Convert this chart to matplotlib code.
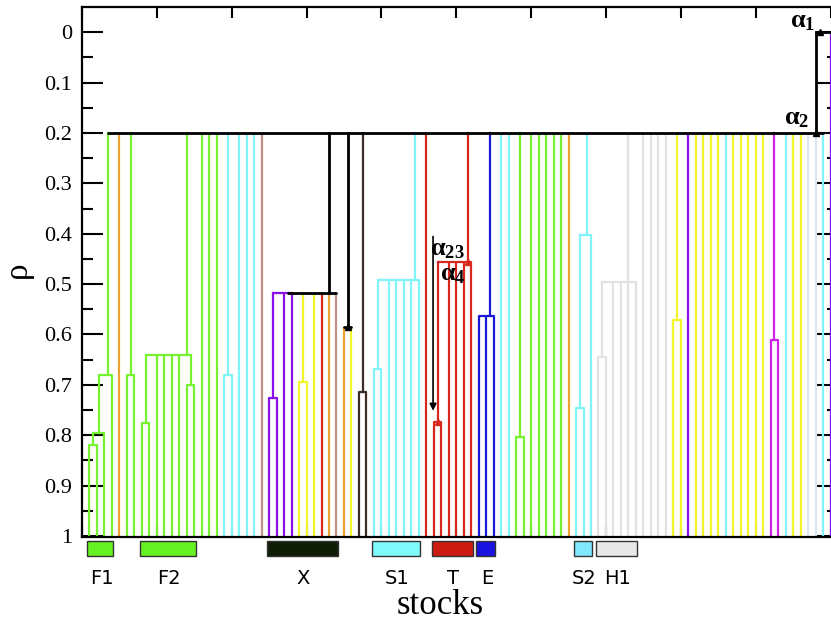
import matplotlib
matplotlib.use('Agg')
import matplotlib.pyplot as plt
from matplotlib.patches import Rectangle
import matplotlib.transforms as mtransforms

plt.rcParams['mathtext.fontset'] = 'custom'
plt.rcParams['mathtext.rm'] = 'Liberation Serif'
plt.rcParams['mathtext.bf'] = 'Liberation Serif:bold'
plt.rcParams['mathtext.it'] = 'Liberation Serif:italic'

# colour palette used for the stock groups
palette = {
    'G': '#77f230', 'C': '#80f4f8', 'O': '#eea030', 'P': '#8a10e8',
    'Y': '#f4f42a', 'R': '#d8281e', 'B': '#1c18d8', 'M': '#cc22e4',
    'W': '#e2e2e2', 'V': '#dde6ee', 'RB': '#c09088', 'DB': '#3c2c26',
    'K': '#000000',
}

# leaf colours, stocks 1..100 (left to right)
leaf_colors = (['G'] * 4 + ['O'] + ['G'] * 13 + ['C'] * 5 + ['RB'] +
               ['P'] * 4 + ['Y'] * 3 + ['R', 'O', 'RB', 'O', 'Y'] +
               ['DB'] * 2 + ['C'] * 7 + ['R'] * 7 + ['B'] * 3 +
               ['C'] * 2 + ['G'] * 7 + ['O'] + ['C'] * 3 + ['W'] * 10 +
               ['Y'] * 2 + ['P'] + ['Y'] * 4 + ['C'] + ['Y'] * 5 +
               ['M'] * 2 + ['C'] + ['Y'] * 2 + ['V'] * 2 + ['C'] + ['P'])


def node(h, c, kids, stem=None):
    return {'h': h, 'c': c, 'kids': kids, 'stem': stem}


# clusters below the 0.2 level (merge height rho, colour, members)
f1 = node(0.68, 'G', [node(0.795, 'G', [node(0.82, 'G', [1, 2]), 3]), 4], stem=3.5)
pair_6_7 = node(0.68, 'G', [6, 7])
f2 = node(0.64, 'G', [node(0.776, 'G', [8, 9]), 10, 11, 12, 13,
                      node(0.70, 'G', [14, 15])], stem=14)
pair_19_20 = node(0.68, 'C', [19, 20])
x_cl = node(0.518, 'K', [node(0.518, 'P', [node(0.726, 'P', [25, 26]), 27, 28], stem=27.5),
                         node(0.695, 'Y', [29, 30]), 31, 32, 33, 34], stem=33)
pair_35_36 = node(0.585, 'K', [35, 36])
pair_37_38 = node(0.714, 'DB', [37, 38])
s1 = node(0.492, 'C', [node(0.669, 'C', [39, 40]), 41, 42, 43, 44, 45], stem=44.5)
t_cl = node(0.456, 'R', [node(0.773, 'R', [47, 48]), 49, 50, 51, 52], stem=51.6)
e_cl = node(0.563, 'B', [53, 54, 55], stem=54.5)
pair_58_59 = node(0.804, 'G', [58, 59])
s2 = node(0.403, 'C', [node(0.746, 'C', [66, 67]), 68], stem=67.5)
h1 = node(0.496, 'W', [node(0.645, 'W', [69, 70]), 71, 72, 73, 74], stem=73)
pair_79_80 = node(0.571, 'Y', [79, 80])
pair_92_93 = node(0.611, 'M', [92, 93])

top_level = ([f1, 5, pair_6_7, f2, 16, 17, 18, pair_19_20, 21, 22, 23, 24, x_cl,
              pair_35_36, pair_37_38, s1, 46, t_cl, e_cl, 56, 57, pair_58_59] +
             list(range(60, 66)) + [s2, h1] + list(range(75, 79)) +
             [pair_79_80] + list(range(81, 92)) + [pair_92_93] + list(range(94, 100)))
root = node(0.2, 'K', top_level, stem=98)
full_tree = node(0.0, 'K', [root, 100], stem=99)

# small arrowheads marking the alpha levels
marks_x = [98, 98.6, 35.5, 51.6, 47.5]
marks_h = [0.2, 0.0, 0.585, 0.456, 0.773]
marks_c = ['K', 'K', 'K', 'R', 'R']

# groups shown as boxes under the axis
groups = ['F1', 'F2', 'X', 'S1', 'T', 'E', 'S2', 'H1']
group_first = [1, 8, 25, 39, 47, 53, 66, 69]
group_last = [4, 15, 34, 45, 52, 55, 68, 74]
group_colors = ['#66f222', '#66f222', '#0f1d06', '#80fafa', '#cc1c12', '#1a12e0', '#80e8ff', '#e8e8e8']

fig = plt.figure(figsize=(8.31, 6.24), dpi=100)
ax = fig.add_axes([82 / 831, 1 - 537 / 624, 756 / 831, 530 / 624])

LW = 1.6


def xpos(n):
    if isinstance(n, int):
        return float(n)
    if n['stem'] is not None:
        return n['stem']
    xs = [xpos(k) for k in n['kids']]
    return (min(xs) + max(xs)) / 2


def draw(n):
    xs = []
    for k in n['kids']:
        kx = xpos(k)
        xs.append(kx)
        if isinstance(k, int):
            ax.plot([kx, kx], [1.0, n['h']], color=palette[leaf_colors[k - 1]], lw=LW,
                    solid_capstyle='butt', zorder=2)
        else:
            draw(k)
            ax.plot([kx, kx], [k['h'], n['h']], color=palette[k['c']],
                    lw=2.0 if k['c'] == 'K' else LW, zorder=3)
    ax.plot([min(xs), max(xs)], [n['h'], n['h']], color=palette[n['c']],
            lw=2.0 if n['c'] == 'K' else LW, solid_capstyle='round', zorder=3)


draw(full_tree)

for mx, mh, mc in zip(marks_x, marks_h, marks_c):
    ax.plot(mx, mh, marker='^', ms=4.5, color=palette[mc], zorder=4)

# alpha annotations
ax.text(96.3, -0.024, r'$\mathbf{α}_\mathbf{1}$', fontsize=19, ha='center', va='center')
ax.text(95.5, 0.170, r'$\mathbf{α}_\mathbf{2}$', fontsize=19, ha='center', va='center')
ax.text(48.8, 0.429, r'$\mathbf{α}_\mathbf{23}$', fontsize=19, ha='center', va='center')
ax.text(49.6, 0.478, r'$\mathbf{α}_\mathbf{4}$', fontsize=19, ha='center', va='center')
ax.annotate('', xy=(46.9, 0.757), xytext=(46.9, 0.40),
            arrowprops=dict(arrowstyle='-|>', color='black', lw=1.2, mutation_scale=10))

ax.set_xlim(0, 101)
ax.set_ylim(1.002, -0.05)
ax.set_xticks(range(0, 101, 10))
ax.set_xticklabels([])
yt = [i / 10 for i in range(11)]
ax.set_yticks(yt)
ax.set_yticklabels(['0'] + [f'{v:.1f}' for v in yt[1:-1]] + ['1'],
                   fontfamily='Liberation Serif', fontsize=16)
ax.set_yticks([i / 20 for i in range(1, 20, 2)], minor=True)
ax.tick_params(axis='y', which='major', direction='in', length=15, width=1.5,
               left=True, right=True, pad=7)
ax.tick_params(axis='y', which='minor', direction='in', length=8, width=1.5,
               left=True, right=True)
ax.tick_params(axis='x', which='major', direction='in', length=8, width=1.5,
               top=True, bottom=True)
for s in ax.spines.values():
    s.set_linewidth(1.6)

trans = mtransforms.blended_transform_factory(ax.transData, ax.transAxes)
for name, a, b, col in zip(groups, group_first, group_last, group_colors):
    ax.add_patch(Rectangle((a - 0.3, -0.036), b - a + 0.5, 0.028, transform=trans,
                           facecolor=col, edgecolor='#333333', lw=1.0, clip_on=False))
    ax.text((a + b) / 2 + 0.1, -0.078, name, transform=trans, ha='center', va='center',
            fontsize=14, fontfamily='DejaVu Sans')

ax.text(47.8, -0.13, 'stocks', transform=trans, ha='center', va='center',
        fontsize=25, fontfamily='Liberation Serif')
fig.text(18 / 831, 1 - 270 / 624, 'ρ', rotation=90, ha='center', va='center',
         fontsize=24, fontfamily='Liberation Serif')

fig.savefig('out.png', dpi=100)
